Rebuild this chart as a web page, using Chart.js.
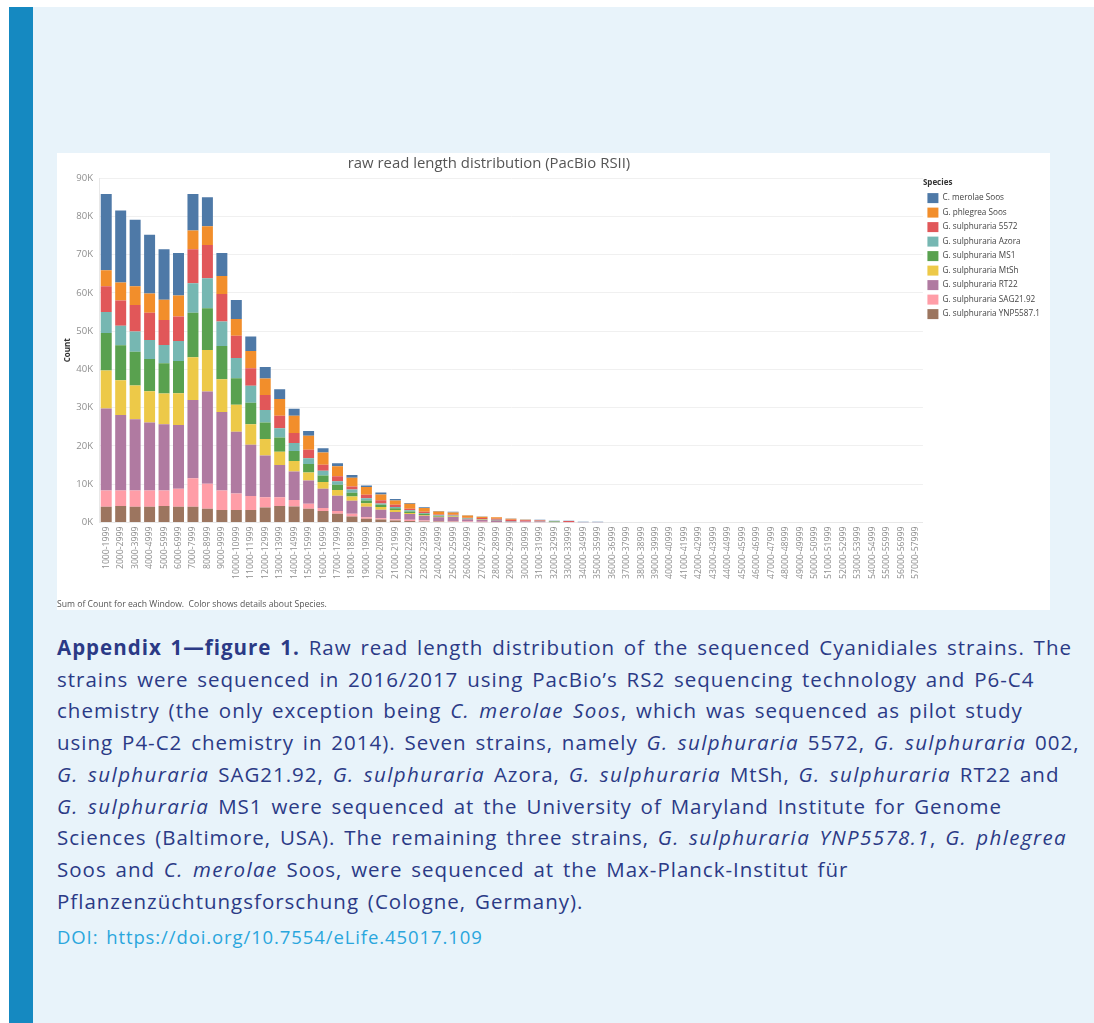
<!DOCTYPE html>
<html>
<head>
<meta charset="utf-8">
<script src="https://cdn.jsdelivr.net/npm/chart.js@4.4.1/dist/chart.umd.min.js"></script>
<style>
    body { margin: 0; width: 1094px; height: 1023px; background: #fff; position: relative; overflow: hidden; }
    .stripe { position: absolute; left: 9px; top: 7px; width: 24px; height: 1016px; background: #1589c1; }
    .panel { position: absolute; left: 33px; top: 7px; width: 1061px; height: 1016px; background: #e8f3fa; }
    .chartbox { position: absolute; left: 57px; top: 153px; width: 993px; height: 457px; background: #fff; }
    .chartbox canvas { position: absolute; left: 0; top: 0; }
    .charttitle { position: absolute; left: 289px; top: 152px; width: 400px; text-align: center;
        font: 14.9px "Open Sans", sans-serif; color: #555; line-height: 20px; }
    .footnote { position: absolute; left: 57px; top: 598px; font: 8.65px "Open Sans", sans-serif; color: #555; white-space: pre; }
    .caption { position: absolute; left: 57px; top: 632px; font: 20.5px "Open Sans", sans-serif; color: #2b3a86;
        line-height: 31.7px; white-space: nowrap; letter-spacing: 1px; word-spacing: 2.5px; }
    .caption b { font-weight: 700; }
    .caption i { letter-spacing: 1.4px; }
    .doi { color: #2aa6dd; font-size: 18.5px; position: relative; top: 4px; letter-spacing: 0.9px; word-spacing: 2px; }
</style>
</head>
<body>
<div class="stripe"></div>
<div class="panel"></div>
<div class="chartbox"><canvas id="lengthChart" width="993" height="457"></canvas></div>
<div class="charttitle">raw read length distribution (PacBio RSII)</div>
<div class="footnote">Sum of Count for each Window.  Color shows details about Species.</div>
<div class="caption">
<b>Appendix 1—figure 1.</b> Raw read length distribution of the sequenced Cyanidiales strains. The<br>
strains were sequenced in 2016/2017 using PacBio’s RS2 sequencing technology and P6-C4<br>
chemistry (the only exception being <i>C. merolae Soos</i>, which was sequenced as pilot study<br>
using P4-C2 chemistry in 2014). Seven strains, namely <i>G. sulphuraria</i> 5572, <i>G. sulphuraria</i> 002,<br>
<i>G. sulphuraria</i> SAG21.92, <i>G. sulphuraria</i> Azora, <i>G. sulphuraria</i> MtSh, <i>G. sulphuraria</i> RT22 and<br>
<i>G. sulphuraria</i> MS1 were sequenced at the University of Maryland Institute for Genome<br>
Sciences (Baltimore, USA). The remaining three strains, <i>G. sulphuraria YNP5578.1</i>, <i>G. phlegrea</i><br>
Soos and <i>C. merolae</i> Soos, were sequenced at the Max-Planck-Institut für<br>
Pflanzenzüchtungsforschung (Cologne, Germany).<br>
<span class="doi">DOI: https://doi.org/10.7554/eLife.45017.109</span>
</div>

<script>
// read length windows (x axis)
const windows = [
    '1000-1999', '2000-2999', '3000-3999', '4000-4999', '5000-5999', '6000-6999', '7000-7999', '8000-8999',
    '9000-9999', '10000-10999', '11000-11999', '12000-12999', '13000-13999', '14000-14999', '15000-15999',
    '16000-16999', '17000-17999', '18000-18999', '19000-19999', '20000-20999', '21000-21999', '22000-22999',
    '23000-23999', '24000-24999', '25000-25999', '26000-26999', '27000-27999', '28000-28999', '29000-29999',
    '30000-30999', '31000-31999', '32000-32999', '33000-33999', '34000-34999', '35000-35999', '36000-36999',
    '37000-37999', '38000-38999', '39000-39999', '40000-40999', '41000-41999', '42000-42999', '43000-43999',
    '44000-44999', '45000-45999', '46000-46999', '47000-47999', '48000-48999', '49000-49999', '50000-50999',
    '51000-51999', '52000-52999', '53000-53999', '54000-54999', '55000-55999', '56000-56999', '57000-57999'
];

// counts per species, bottom of the stack first
const ynp5587 = [4100, 4350, 4100, 4100, 4350, 4100, 4100, 3600, 3300, 3300, 3300, 3900, 4350, 4200, 3600, 3000, 2300, 1600, 1000, 800,
    500, 400, 300, 250, 200, 150, 100, 100, 50, 0, 0, 0, 0, 0, 0, 0, 0, 0, 0];
const sag2192 = [4300, 4050, 4300, 4300, 4050, 4700, 7500, 6500, 5100, 4300, 3600, 2700, 2250, 1700, 1300, 800, 700, 700, 350, 350,
    350, 300, 200, 150, 150, 100, 100, 50, 50, 50, 50, 0, 50, 0, 0, 0, 0, 0, 0];
const rt22 = [21400, 19700, 18600, 17700, 17300, 16700, 20400, 24100, 20500, 16100, 13400, 10900, 8400, 7400, 6100, 5000, 4000, 3400, 2800, 2200,
    1900, 1500, 1300, 950, 1100, 600, 450, 350, 200, 200, 250, 50, 100, 100, 100, 0, 0, 0, 0];
const mtsh = [9900, 9100, 8800, 8200, 8000, 8300, 11200, 10900, 8500, 7100, 5400, 4300, 3500, 2800, 2100, 1800, 1500, 1100, 900, 700,
    500, 300, 200, 150, 100, 50, 50, 50, 0, 0, 0, 0, 0, 0, 0, 0, 0, 0, 0];
const ms1 = [9800, 9100, 8800, 8400, 7900, 8400, 11600, 10900, 8700, 6900, 5600, 4300, 3700, 2600, 2200, 1700, 1400, 1000, 700, 600,
    500, 400, 300, 200, 150, 100, 100, 100, 50, 50, 50, 250, 0, 0, 0, 0, 0, 0, 0];
const azora = [5500, 5100, 5300, 5000, 4800, 5200, 7700, 7800, 6400, 5300, 4400, 3300, 2400, 2100, 1500, 1200, 900, 800, 600, 300,
    300, 300, 200, 200, 150, 100, 50, 50, 50, 0, 0, 50, 0, 0, 0, 0, 0, 0, 0];
const g5572 = [6700, 6600, 6900, 7100, 6500, 6400, 8900, 8700, 7200, 5800, 4600, 3900, 3300, 2600, 2200, 1600, 1300, 800, 900, 900,
    600, 400, 300, 200, 200, 150, 350, 300, 300, 300, 200, 50, 250, 0, 0, 0, 0, 0, 0];
const phlegrea = [4200, 4700, 4900, 5000, 5300, 5500, 4900, 4900, 4700, 4400, 4500, 4300, 4400, 4500, 3700, 3200, 2600, 2300, 2000, 1500,
    1100, 1300, 1000, 800, 600, 600, 300, 350, 300, 150, 50, 0, 0, 0, 0, 0, 0, 0, 0];
const merolae = [19900, 18800, 17400, 15400, 13200, 11100, 9500, 7600, 6000, 4900, 3800, 3000, 2500, 1800, 1200, 1100, 800, 700, 400, 500,
    400, 200, 200, 100, 150, 50, 50, 50, 50, 50, 100, 50, 50, 100, 100, 100, 100, 100, 100];

const yTicks = [0, 10000, 20000, 30000, 40000, 50000, 60000, 70000, 80000, 90000];

document.addEventListener('DOMContentLoaded', function() {
    const ctx = document.getElementById('lengthChart').getContext('2d');

    // tableau 10 colours, same order as the stack
    const series = [
        { label: 'G. sulphuraria YNP5587.1', data: ynp5587, color: '#9c755f' },
        { label: 'G. sulphuraria SAG21.92', data: sag2192, color: '#ff9da7' },
        { label: 'G. sulphuraria RT22', data: rt22, color: '#b07aa1' },
        { label: 'G. sulphuraria MtSh', data: mtsh, color: '#edc948' },
        { label: 'G. sulphuraria MS1', data: ms1, color: '#59a14f' },
        { label: 'G. sulphuraria Azora', data: azora, color: '#76b7b2' },
        { label: 'G. sulphuraria 5572', data: g5572, color: '#e15759' },
        { label: 'G. phlegrea Soos', data: phlegrea, color: '#f28e2b' },
        { label: 'C. merolae Soos', data: merolae, color: '#4e79a7' }
    ];

    new Chart(ctx, {
        type: 'bar',
        data: {
            labels: windows,
            datasets: series.map(s => ({
                label: s.label,
                data: s.data,
                // the last few windows are drawn faded in the original
                backgroundColor: s.label === 'C. merolae Soos'
                    ? (c => (c.dataIndex >= 35 ? '#d3dce8' : s.color))
                    : s.color,
                borderWidth: 0,
                barPercentage: 0.76,
                categoryPercentage: 1.0
            }))
        },
        options: {
            responsive: false,
            animation: false,
            devicePixelRatio: 1,
            layout: { padding: { top: 25, left: 0, right: 0, bottom: 27 } },
            plugins: {
                tooltip: { enabled: false },
                legend: {
                    position: 'right',
                    align: 'start',
                    reverse: true,
                    title: {
                        display: true,
                        text: 'Species',
                        position: 'start',
                        color: '#333',
                        font: { family: 'Open Sans', size: 8, weight: 'bold' },
                        padding: { top: 1, bottom: 0 }
                    },
                    labels: {
                        boxWidth: 11,
                        boxHeight: 10,
                        padding: 4.5,
                        color: '#444',
                        font: { family: 'Open Sans', size: 8.2 }
                    }
                }
            },
            scales: {
                x: {
                    stacked: true,
                    grid: { display: false, drawTicks: false },
                    border: { color: '#e8e8e8' },
                    ticks: {
                        autoSkip: false,
                        minRotation: 90,
                        maxRotation: 90,
                        padding: 4,
                        color: '#8e8e8e',
                        font: { family: 'Open Sans', size: 8.7 }
                    }
                },
                y: {
                    stacked: true,
                    min: 0,
                    max: 90000,
                    afterBuildTicks: axis => { axis.ticks = yTicks.map(v => ({ value: v })); },
                    afterFit: axis => { axis.width = 42; },
                    grid: { color: '#f0f0f0', drawTicks: false },
                    border: { color: '#e8e8e8' },
                    ticks: {
                        padding: 6,
                        color: '#8e8e8e',
                        font: { family: 'Open Sans', size: 9.5 },
                        callback: v => (v / 1000) + 'K'
                    },
                    title: {
                        display: true,
                        text: 'Count',
                        color: '#333',
                        font: { family: 'Open Sans', size: 8, weight: 'bold' },
                        padding: { top: 6, bottom: 4 }
                    }
                }
            }
        }
    });
});
</script>
</body>
</html>
